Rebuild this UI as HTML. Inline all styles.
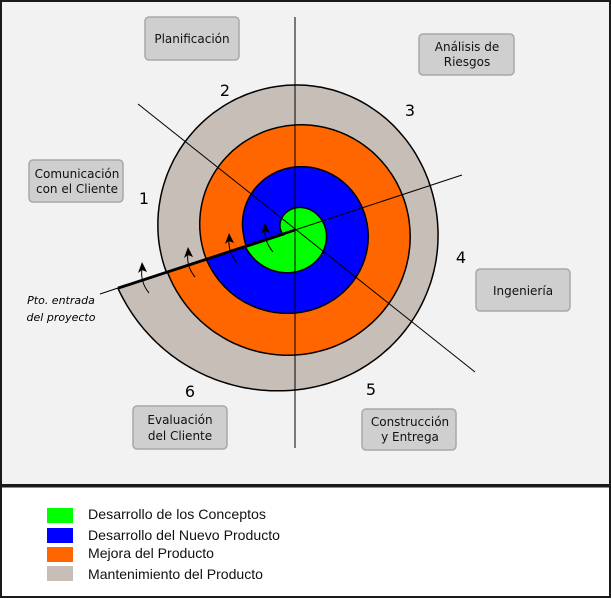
<!DOCTYPE html>
<html><head><meta charset="utf-8"><style>
html,body{margin:0;padding:0;background:#fff}
svg{display:block}
text{font-family:"DejaVu Sans","Liberation Sans",sans-serif}
</style></head><body>
<svg id="s" width="611" height="599" xmlns="http://www.w3.org/2000/svg">
<rect x="1" y="1" width="609" height="484" fill="#f2f2f2" stroke="#1a1a1a" stroke-width="2"/>
<rect x="1" y="486" width="609" height="111" fill="#fff" stroke="#1a1a1a" stroke-width="2"/>
<line x1="0" y1="486" x2="611" y2="486" stroke="#1a1a1a" stroke-width="3"/>
<g id="bands"></g>
<line x1="295" y1="17" x2="295" y2="448" stroke="#000" stroke-width="1"/>
<line x1="138" y1="104" x2="475" y2="372" stroke="#000" stroke-width="1"/>
<line x1="100" y1="294" x2="118" y2="288" stroke="#000" stroke-width="1"/>
<line x1="295" y1="230" x2="462" y2="175" stroke="#000" stroke-width="1"/>
<line x1="118" y1="288" x2="295" y2="230" stroke="#000" stroke-width="2.5"/>
<g fill="none" stroke="#000" stroke-width="1">
<path d="M149,293 Q140,282 142,268"/>
<path d="M195,277 Q186,266 188,253"/>
<path d="M237,263 Q228,252 229,239"/>
<path d="M273,252 Q264,241 265,229"/>
</g>
<g fill="#000">
<polygon points="142,262 138,273 142,270 147,272"/>
<polygon points="188,247 184,258 188,255 193,257"/>
<polygon points="229,233 225,244 229,241 234,243"/>
<polygon points="265,223 261,234 265,231 270,233"/>
</g>
<g fill="#cfcfcf" stroke="#a8a8a8" stroke-width="1.5">
<rect x="145" y="17" width="94" height="43" rx="4"/>
<rect x="419" y="34" width="95" height="41" rx="4"/>
<rect x="29" y="160" width="94" height="42" rx="4"/>
<rect x="476" y="269" width="94" height="42" rx="4"/>
<rect x="133" y="406" width="94" height="43" rx="4"/>
<rect x="362" y="409" width="94" height="41" rx="4"/>
</g>
<g font-size="12" fill="#111" text-anchor="middle">
<text x="192" y="43">Planificación</text>
<text x="467" y="51">Análisis de</text><text x="467" y="66">Riesgos</text>
<text x="77" y="178">Comunicación</text><text x="77" y="193">con el Cliente</text>
<text x="523" y="295">Ingeniería</text>
<text x="180" y="424">Evaluación</text><text x="180" y="440">del Cliente</text>
<text x="410" y="426">Construcción</text><text x="410" y="441">y Entrega</text>
</g>
<g font-size="16" fill="#000" text-anchor="middle">
<text x="225" y="96">2</text><text x="410" y="116">3</text><text x="144" y="204">1</text>
<text x="461" y="263">4</text><text x="371" y="395">5</text><text x="190" y="397">6</text>
</g>
<g font-style="italic" font-size="11" fill="#000" text-anchor="middle">
<text x="61" y="304">Pto. entrada</text>
<text x="61" y="321">del proyecto</text>
</g>
<rect x="47" y="508" width="26" height="15" fill="#00ff00"/>
<rect x="47" y="528" width="26" height="15" fill="#0000ff"/>
<rect x="47" y="547" width="26" height="15" fill="#ff6600"/>
<rect x="47" y="566" width="26" height="15" fill="#c8beb8"/>
<g font-size="14" fill="#111">
<text x="88" y="519" textLength="178" lengthAdjust="spacingAndGlyphs" style="font-family:'Liberation Sans',sans-serif">Desarrollo de los Conceptos</text>
<text x="88" y="540" textLength="192" lengthAdjust="spacingAndGlyphs" style="font-family:'Liberation Sans',sans-serif">Desarrollo del Nuevo Producto</text>
<text x="88" y="558" textLength="126" lengthAdjust="spacingAndGlyphs" style="font-family:'Liberation Sans',sans-serif">Mejora del Producto</text>
<text x="88" y="579" textLength="175" lengthAdjust="spacingAndGlyphs" style="font-family:'Liberation Sans',sans-serif">Mantenimiento del Producto</text>
</g>
</svg>
<script>
(function(){
var cx=295,cy=231,a0=161.9;
var P=[0,72,162,252,342,360];
var bands=[
 ["#c8beb8",[186,159,143,146,137,135]],
 ["#ff6600",[134,124,115,106,95,93]],
 ["#0000ff",[93,82,73,64,52,51]],
 ["#00ff00",[52,41,31,23,14,12]]];
var g=document.getElementById("bands"),ns="http://www.w3.org/2000/svg";
function interp(R,p){
 var i=0;while(i<P.length-2&&p>P[i+1])i++;
 var h=P[i+1]-P[i],t=(p-P[i])/h;
 function m(k){
  if(k<=0)return (R[1]-R[0])/(P[1]-P[0]);
  if(k>=P.length-1)return (R[k]-R[k-1])/(P[k]-P[k-1]);
  return (R[k+1]-R[k-1])/(P[k+1]-P[k-1]);
 }
 var m0=m(i)*h,m1=m(i+1)*h,t2=t*t,t3=t2*t;
 return (2*t3-3*t2+1)*R[i]+(t3-2*t2+t)*m0+(-2*t3+3*t2)*R[i+1]+(t3-t2)*m1;
}
bands.forEach(function(b){
 var pts=[];
 for(var p=0;p<=360;p+=1.5){
  var r=interp(b[1],Math.min(p,360));
  var a=(a0-p)*Math.PI/180;
  pts.push((cx+r*Math.cos(a)).toFixed(1)+","+(cy+r*Math.sin(a)).toFixed(1));
 }
 var el=document.createElementNS(ns,"polygon");
 el.setAttribute("points",pts.join(" "));
 el.setAttribute("fill",b[0]);el.setAttribute("stroke","#000");el.setAttribute("stroke-width","1.5");
 g.appendChild(el);
});
})();
</script>
</body></html>
